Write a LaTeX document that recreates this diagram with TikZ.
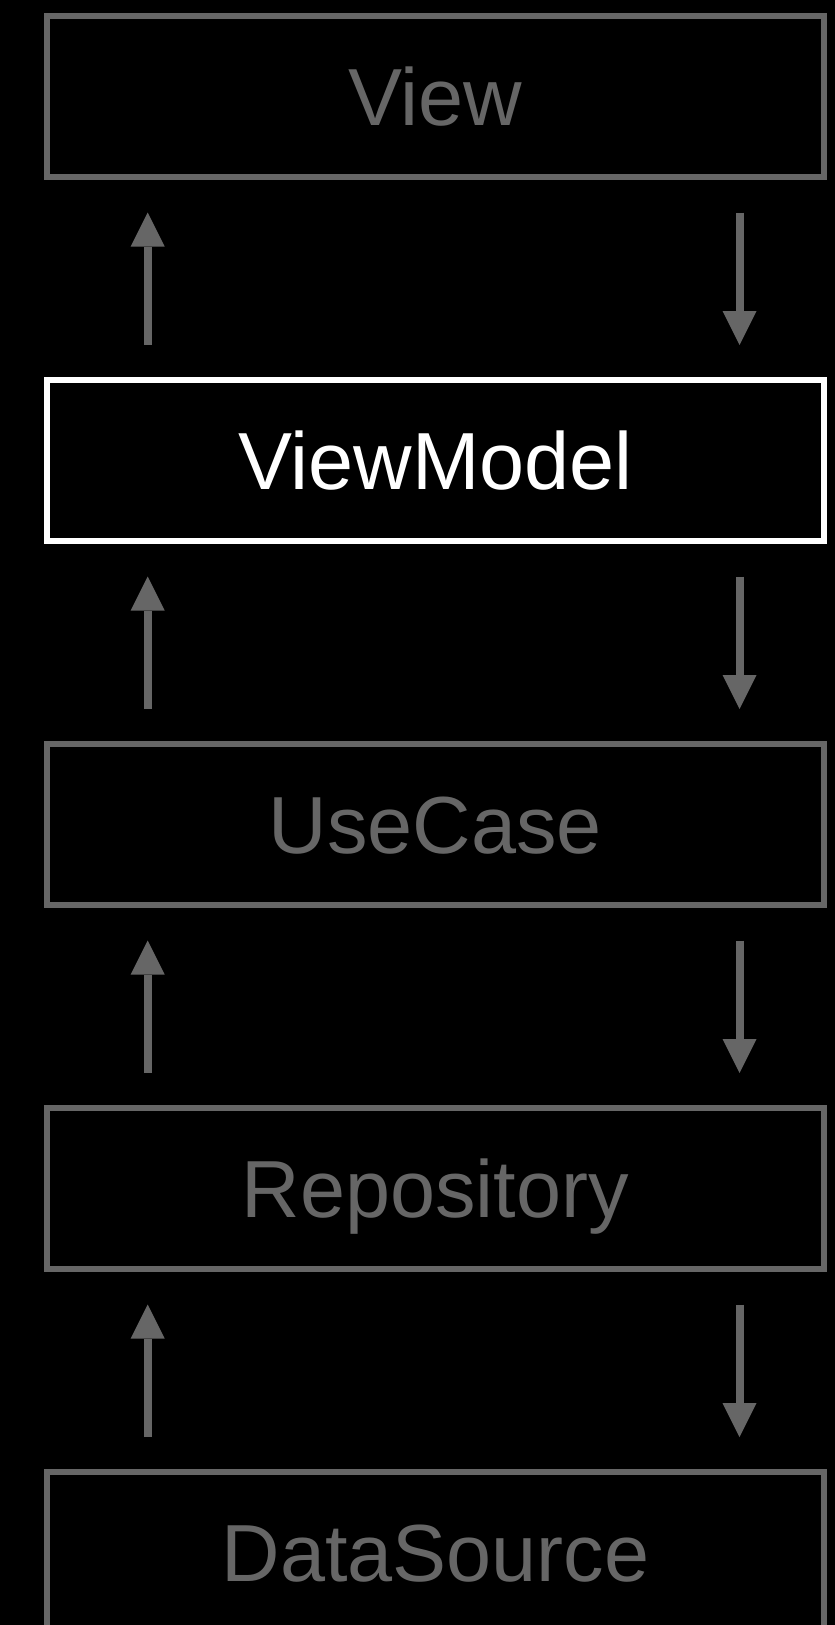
\documentclass[tikz,border=0pt]{standalone}
\usepackage{fontspec}
\setmainfont{Liberation Sans}
\usetikzlibrary{arrows.meta,calc}
\definecolor{lgray}{RGB}{102,102,102}
\begin{document}
\begin{tikzpicture}[x=1pt,y=-1pt,
  layerbox/.style={draw=lgray, text=lgray, line width=6pt, outer sep=0pt, inner sep=0pt,
    minimum width=776.2pt, minimum height=160.9pt,
    font=\fontsize{81}{90}\selectfont, text height=58pt, text depth=0pt},
  activebox/.style={layerbox, draw=white, text=white},
  flow/.style={draw=lgray, line width=8pt, -{Triangle[width=34pt,length=34pt,line width=0pt]}}
]
\fill[black] (0,0) rectangle (835,1625);
\useasboundingbox (0,0) rectangle (835,1625);
\node[layerbox] (view) at (435.4,96.75) {View};
\node[activebox] (vm) at (435.4,460.75) {ViewModel};
\node[layerbox] (uc) at (435.4,824.75) {UseCase};
\node[layerbox] (repo) at (435.4,1188.75) {Repository};
\node[layerbox] (ds) at (435.4,1552.75) {DataSource};
\foreach \a/\b in {view/vm, vm/uc, uc/repo, repo/ds}{
  \draw[flow] ($(\b.north west)+(100.4,-35.3)$) -- ($(\a.south west)+(100.4,35.3)$);
  \draw[flow] ($(\a.south east)+(-84,35.3)$) -- ($(\b.north east)+(-84,-35.3)$);
}
\end{tikzpicture}
\end{document}
